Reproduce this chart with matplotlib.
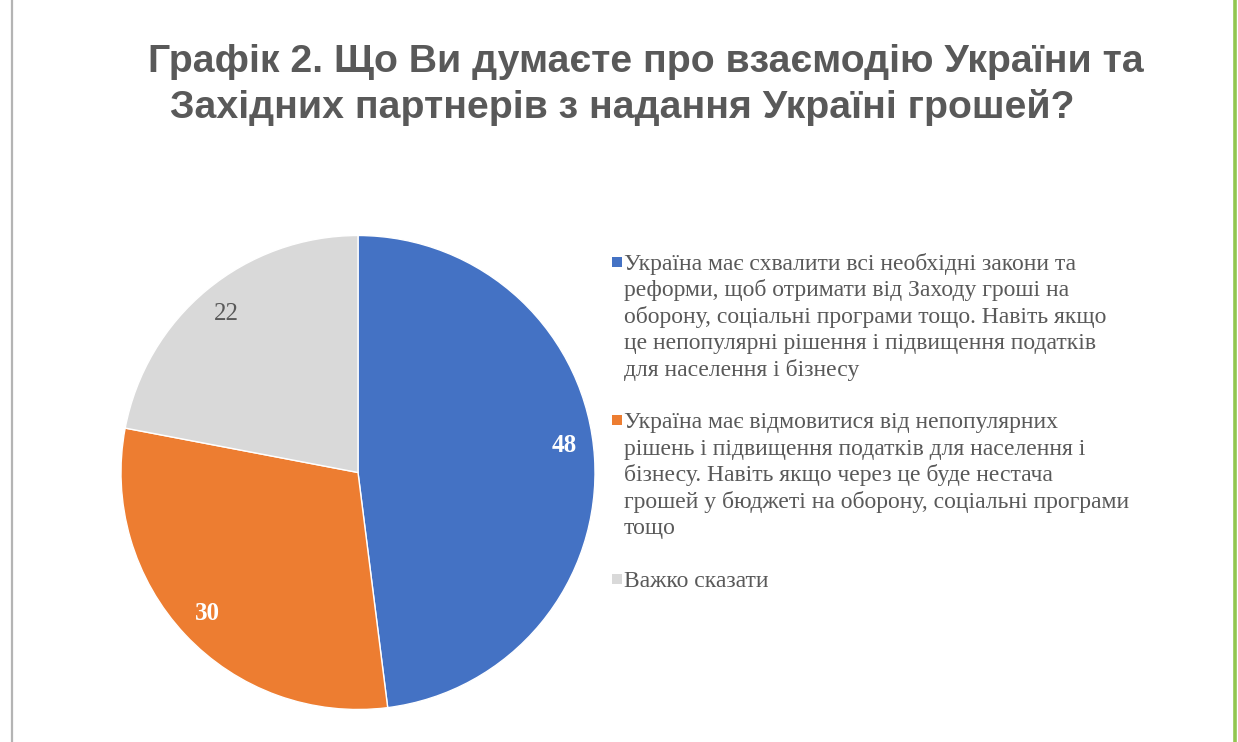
import matplotlib
matplotlib.use("Agg")
import matplotlib.pyplot as plt
from matplotlib.patches import Rectangle
from matplotlib.lines import Line2D

# ---- data ----
title_lines = [
    "Графік 2. Що Ви думаєте про взаємодію України та",
    "Західних партнерів з надання Україні грошей?",
]
categories = [
    "Україна має схвалити всі необхідні закони та\nреформи, щоб отримати від Заходу гроші на\nоборону, соціальні програми тощо. Навіть якщо\nце непопулярні рішення і підвищення податків\nдля населення і бізнесу",
    "Україна має відмовитися від непопулярних\nрішень і підвищення податків для населення і\nбізнесу. Навіть якщо через це буде нестача\nгрошей у бюджеті на оборону, соціальні програми\nтощо",
    "Важко сказати",
]
values = [48, 30, 22]
colors = ["#4472C4", "#ED7D31", "#D9D9D9"]
label_colors = ["white", "white", "#595959"]
label_weights = ["bold", "bold", "normal"]

W, H = 1238, 742
fig = plt.figure(figsize=(W / 100, H / 100), dpi=100)
fig.patch.set_facecolor("white")

def fx(px):
    return px / W

def fy(py):
    return 1 - py / H

# frame lines
fig.add_artist(Line2D([fx(12), fx(12)], [0, 1], color="#B4B4B4", lw=1.6, transform=fig.transFigure))
fig.add_artist(Line2D([fx(1234.5), fx(1234.5)], [0, 1], color="#92C650", lw=2.6, transform=fig.transFigure))

# title
grey = "#595959"
fig.text(fx(148), fy(72), title_lines[0], ha="left", va="baseline",
         fontsize=28.3, fontweight="bold", color=grey, family="Liberation Sans")
fig.text(fx(170), fy(118.5), title_lines[1], ha="left", va="baseline",
         fontsize=28.3, fontweight="bold", color=grey, family="Liberation Sans")

# pie
cx, cy, r = 358, 472.5, 237
ax = fig.add_axes([fx(cx - r), fy(cy + r), (2 * r) / W, (2 * r) / H])
wedges, texts, autotexts = ax.pie(
    values, colors=colors, startangle=90, counterclock=False,
    autopct=lambda p: "{:.0f}".format(p), pctdistance=0.87,
    wedgeprops=dict(edgecolor="white", linewidth=1),
    textprops=dict(family="Liberation Serif", fontsize=18),
)
for t, c, w in zip(autotexts, label_colors, label_weights):
    t.set_color(c)
    t.set_fontweight(w)
# Excel "best fit" places the first label slightly higher
x0, y0 = autotexts[0].get_position()
autotexts[0].set_position((x0, y0 + 0.06))
ax.set_xlim(-1, 1)
ax.set_ylim(-1, 1)
ax.set_aspect("equal")
ax.axis("off")

# legend (manual, markers aligned to first line)
step = 26.4
baseline = 270
for wdg, label in zip(wedges, categories):
    lines = label.split("\n")
    sq = 10
    fig.add_artist(Rectangle((fx(612), fy(baseline - 8 + sq / 2)), sq / W, sq / H,
                             transform=fig.transFigure, facecolor=wdg.get_facecolor(),
                             edgecolor="none"))
    for i, ln in enumerate(lines):
        fig.text(fx(624), fy(baseline + i * step), ln, ha="left", va="baseline",
                 fontsize=17, color=grey, family="Liberation Serif")
    baseline += (len(lines) + 1) * step

fig.savefig("out.png", dpi=100, facecolor="white")
